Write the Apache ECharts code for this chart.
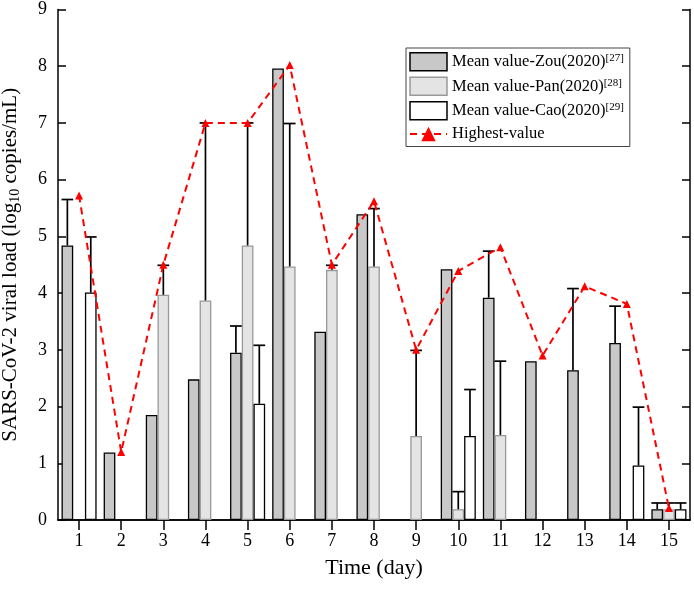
<!DOCTYPE html>
<html>
<head>
<meta charset="utf-8">
<script src="https://cdn.jsdelivr.net/npm/echarts@6/dist/echarts.min.js"></script>
<style>html,body{margin:0;padding:0;background:#fff;}#c{width:694px;height:596px;}</style>
</head>
<body>
<div id="c"></div>
<script>
var days = ['1','2','3','4','5','6','7','8','9','10','11','12','13','14','15'];
var yTicks = [0,1,2,3,4,5,6,7,8,9];
var zouMean = [4.84,1.19,1.85,2.48,2.95,7.96,3.32,5.39,null,4.42,3.92,2.80,2.64,3.12,0.19];
var zouErr  = [5.65,null,null,null,3.42,null,null,null,null,null,4.74,null,4.08,3.77,0.30];
var panMean = [null,null,3.97,3.87,4.84,4.47,4.41,4.47,1.48,0.19,1.50,null,null,null,0.19];
var panErr  = [null,null,4.49,7.00,7.00,6.99,4.49,5.49,2.99,0.50,2.80,null,null,null,0.30];
var caoMean = [4.01,null,null,null,2.05,null,null,null,null,1.48,null,null,null,0.96,0.19];
var caoErr  = [4.99,null,null,null,3.08,null,null,null,null,2.30,null,null,null,1.99,0.30];
var highest = [5.72,1.20,4.50,7.00,7.00,8.02,4.50,5.62,3.00,4.39,4.81,2.90,4.12,3.81,0.21];

var FONT = "'Liberation Serif','Times New Roman',serif";
var BW = 11.7;

function errData(mean, err){
  var out = [];
  for (var i=0;i<mean.length;i++){
    if (mean[i]!=null && err[i]!=null) out.push([i, mean[i], err[i]]);
  }
  return out;
}
function errSeries(mean, err, offset){
  return {
    type:'custom', xAxisIndex:0, yAxisIndex:0, z:3, silent:true,
    data: errData(mean, err),
    renderItem: function(params, api){
      var i = api.value(0);
      var p1 = api.coord([i, api.value(1)]);
      var p2 = api.coord([i, api.value(2)]);
      var x = p1[0] + offset;
      var st = {stroke:'#000', lineWidth:1.7};
      return {type:'group', children:[
        {type:'line', shape:{x1:x,y1:p1[1],x2:x,y2:p2[1]}, style:st},
        {type:'line', shape:{x1:x-BW/2,y1:p2[1],x2:x+BW/2,y2:p2[1]}, style:st}
      ]};
    }
  };
}

var chart = echarts.init(document.getElementById('c'));
var sup = {fontSize:11, fontFamily:FONT, color:'#000', verticalAlign:'top', lineHeight:18};
var nrm = {fontSize:16.5, fontFamily:FONT, color:'#000', lineHeight:18};
var names = ['Mean value-Zou(2020)','Mean value-Pan(2020)','Mean value-Cao(2020)','Highest-value'];
var refs = {'Mean value-Zou(2020)':'[27]','Mean value-Pan(2020)':'[28]','Mean value-Cao(2020)':'[29]'};

chart.setOption({
  animation:false,
  backgroundColor:'#fff',
  grid:{left:58, right:4, top:9.5, bottom:76, containLabel:false, outerBoundsMode:'none'},
  legend:{
    orient:'vertical', left:406, top:48,
    padding:[4,6,4,3], itemGap:5, itemWidth:37, itemHeight:18,
    borderColor:'#444', borderWidth:1, backgroundColor:'#fff',
    data:[
      {name:names[0], icon:'rect', itemStyle:{color:'#c8c8c8', borderColor:'#000', borderWidth:1.5}},
      {name:names[1], icon:'rect', itemStyle:{color:'#e4e4e4', borderColor:'#999', borderWidth:1.5}},
      {name:names[2], icon:'rect', itemStyle:{color:'#fff', borderColor:'#000', borderWidth:1.5}},
      {name:names[3]}
    ],
    formatter:function(n){ return refs[n] ? '{n|'+n+'}{s|'+refs[n]+'}' : '{n|'+n+'}'; },
    textStyle:{fontFamily:FONT, fontSize:16.5, color:'#000', rich:{n:nrm, s:sup}}
  },
  xAxis:[
    {type:'category', data:days, position:'bottom',
     axisLine:{lineStyle:{color:'#000', width:1.5}},
     axisTick:{show:false},
     axisLabel:{color:'#000', fontFamily:FONT, fontSize:18, margin:12},
     name:'Time (day)', nameLocation:'middle', nameGap:37,
     nameTextStyle:{color:'#000', fontFamily:FONT, fontSize:22}},
    {type:'category', data:days, position:'top',
     axisLine:{lineStyle:{color:'#000', width:1.5}},
     axisTick:{show:true, inside:true, alignWithLabel:true, length:10, lineStyle:{color:'#000', width:1.5}},
     axisLabel:{show:false}}
  ],
  yAxis:[
    {type:'value', min:0, max:9, interval:1, position:'left',
     axisLine:{show:true, lineStyle:{color:'#000', width:1.5}},
     axisTick:{show:true, inside:true, length:8, lineStyle:{color:'#000', width:1.5}},
     splitLine:{show:false},
     axisLabel:{color:'#000', fontFamily:FONT, fontSize:18, margin:11,
       formatter:function(v){ return yTicks.indexOf(v)>=0 ? String(v) : ''; }},
     name:'{a|SARS-CoV-2 viral load (log}{b|10}{a| copies/mL)}',
     nameLocation:'middle', nameRotate:90, nameGap:36,
     nameTextStyle:{color:'#000', fontFamily:FONT, fontSize:21,
       rich:{a:{fontFamily:FONT, fontSize:21, color:'#000', lineHeight:24},
             b:{fontFamily:FONT, fontSize:14, color:'#000', verticalAlign:'bottom', lineHeight:24}}}},
    {type:'value', min:0, max:9, interval:1, position:'right',
     axisLine:{show:true, lineStyle:{color:'#000', width:1.5}},
     axisTick:{show:true, inside:true, length:8, lineStyle:{color:'#000', width:1.5}},
     splitLine:{show:false}, axisLabel:{show:false}}
  ],
  series:[
    {name:names[0], type:'bar', data:zouMean, barWidth:BW, barGap:'0%', z:2,
     itemStyle:{color:'#c8c8c8', borderColor:'#000', borderWidth:1.3}},
    {name:names[1], type:'bar', data:panMean, barWidth:BW, barGap:'0%', z:2,
     itemStyle:{color:'#e4e4e4', borderColor:'#999', borderWidth:1.3}},
    {name:names[2], type:'bar', data:caoMean, barWidth:BW, barGap:'0%', z:2,
     itemStyle:{color:'#fff', borderColor:'#000', borderWidth:1.3}},
    errSeries(zouMean, zouErr, -BW),
    errSeries(panMean, panErr, 0),
    errSeries(caoMean, caoErr, BW),
    {name:names[3], type:'line', data:highest, z:5,
     symbol:'triangle', symbolSize:8,
     itemStyle:{color:'#ff0000'},
     lineStyle:{color:'#ff0000', width:2, type:[7,5]}}
  ]
});
</script>
</body>
</html>
